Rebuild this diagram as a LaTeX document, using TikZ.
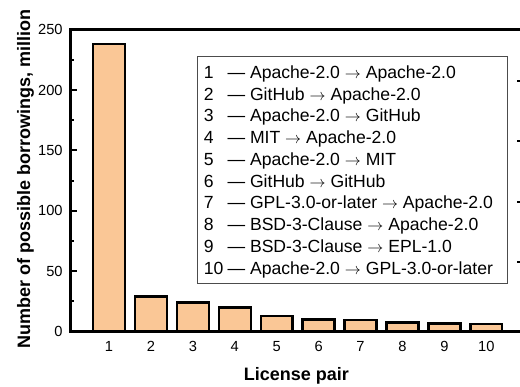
\documentclass[tikz,border=0pt]{standalone}
\usepackage{fontspec}
\setmainfont{Liberation Sans}
\usetikzlibrary{calc}
\definecolor{barfill}{RGB}{250,199,150}
\tikzset{
 bar/.style={draw=black, line width=1.8pt, fill=barfill},
 axisline/.style={black, line width=2.2pt},
 tickline/.style={black, line width=1.5pt},
 legbox/.style={draw=black!70, line width=.6pt},
 ticklab/.style={inner sep=0pt, font=\fontsize{11}{13}\selectfont},
 axislab/.style={inner sep=0pt, font=\fontsize{13.5}{16}\selectfont\bfseries},
 legtext/.style={inner sep=0pt, anchor=base west, font=\fontsize{13.2}{16}\selectfont}
}

\begin{document}
\begin{tikzpicture}[x=31.44pt, y=0.906pt]
\useasboundingbox (-1.601,-45.78) rectangle (10.804,274.59);
\coordinate (O) at (0.086,0);
\coordinate (E) at (10.876,250);
% bars
\foreach \x/\v in {1/238,2/29,3/24,4/20,5/13,6/10,7/9.5,8/7.5,9/6.8,10/6.4} {
 \draw[bar] (\x-.38,0) rectangle (\x+.38,\v);
 \node[ticklab] (xt\x) at (\x,-12.4) {\x};
}
\draw[axisline] (O) rectangle (E);
\foreach \y in {0,50,100,150,200,250} {
 \draw[tickline] (0.086,\y) --++(4.6pt,0);
 \node[ticklab, anchor=east] (yt\y) at (-0.1,\y) {\y};
}
\foreach \y in {25,75,125,175,225}
 \draw[tickline] (0.086,\y) --++(2.4pt,0);
\foreach \y in {57.5,107.5,157.5,207.5}
 \draw[tickline] (10.876,\y) --++(-4.5pt,0);
% legend
\draw[legbox] (3.099,40.1) rectangle (10.496,227.6);
\foreach \n/\a/\b [evaluate=\n as \yb using 209.8-18.03*(\n-1)] in
 {1/Apache-2.0/Apache-2.0, 2/GitHub/Apache-2.0, 3/Apache-2.0/GitHub,
  4/MIT/Apache-2.0, 5/Apache-2.0/MIT, 6/GitHub/GitHub,
  7/GPL-3.0-or-later/Apache-2.0, 8/BSD-3-Clause/Apache-2.0,
  9/BSD-3-Clause/EPL-1.0, 10/Apache-2.0/GPL-3.0-or-later}
 \node[legtext] (leg\n) at (3.254,\yb) {\makebox[1.35em][l]{\n}\textemdash\ \a\ $\rightarrow$ \b};
\node[axislab, anchor=base] (xlab) at (5.47,-40) {License pair};
\node[axislab, anchor=base, rotate=90] (ylab) at (-0.885,126.4) {Number of possible borrowings, million};
\end{tikzpicture}
\end{document}
